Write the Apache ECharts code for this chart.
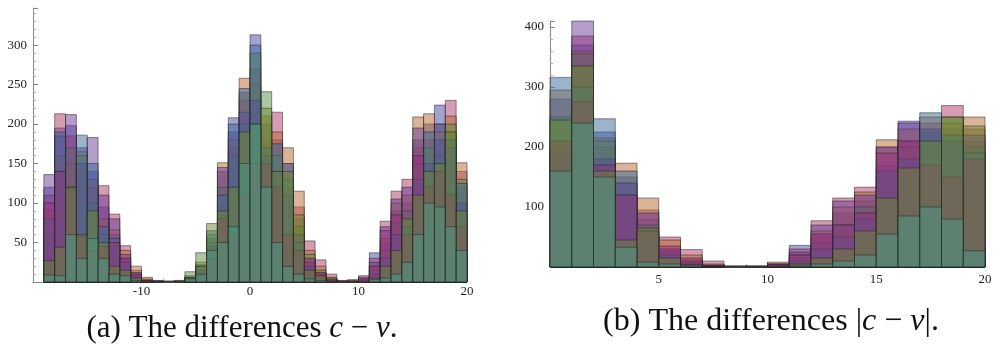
<!DOCTYPE html>
<html>
<head>
<meta charset="utf-8">
<script src="https://cdn.jsdelivr.net/npm/echarts@6/dist/echarts.min.js"></script>
<style>
  html, body { margin: 0; padding: 0; background: #fff; }
  #chart { width: 995px; height: 353px; }
</style>
</head>
<body>
<div id="chart"></div>
<script>
// (a) differences c - v : bin start of each unit-wide bin
const aBins = [-19,-18,-17,-16,-15,-14,-13,-12,-11,-10,-9,-8,-7,-6,-5,-4,-3,-2,-1,0,1,2,3,4,5,6,7,8,9,10,11,12,13,14,15,16,17,18,19]
const aBlue   = [120,195,198,170,140,95,60,30,10,3,1,0,1,6,22,55,140,208,240,313,200,180,120,80,30,12,4,1,1,3,37,50,90,100,180,200,224,190,120]
const aPink   = [110,213,185,140,120,122,86,46,15,4,2,1,0,4,18,40,100,170,230,270,180,215,150,95,52,28,10,2,2,8,30,77,115,130,170,180,200,230,140]
const aTan    = [90,160,150,165,130,80,66,40,20,6,1,1,2,8,25,50,151,180,258,250,210,190,170,115,40,20,6,1,3,4,20,55,100,110,209,213,190,210,151]
const aGreen  = [60,140,170,160,100,60,45,20,8,2,0,0,1,13,37,60,120,160,200,290,241,160,130,70,35,15,5,0,1,2,15,40,75,90,150,170,160,200,130]
const aPurple = [136,185,212,150,183,110,80,35,12,2,1,0,0,3,15,45,145,190,215,230,160,140,110,60,25,10,2,1,0,6,25,70,105,120,195,150,180,170,100]
const aSteel  = [80,190,120,186,150,70,55,25,6,1,1,1,1,6,20,65,110,200,245,300,170,175,150,50,20,6,2,0,1,1,10,30,60,70,130,190,200,180,125]
const aMagenta = [100,140,118,58,40,45,50,30,10,2,1,0,0,2,8,30,80,60,110,150,150,120,60,40,30,12,3,0,1,4,20,65,85,60,160,120,140,110,70]
const aOlive  = [27,44,120,60,90,50,20,15,5,1,0,0,1,5,20,74,90,120,190,200,220,140,140,85,15,8,1,1,0,1,5,20,40,80,110,140,150,190,90]
const aTeal   = [9,8,60,30,55,30,10,8,2,0,0,0,0,4,10,40,50,70,150,200,120,50,20,10,4,2,0,0,0,0,3,5,10,25,60,100,95,70,40]

// (b) differences |c - v|
const bBins = [0,1,2,3,4,5,6,7,8,9,10,11,12,13,14,15,16,17,18,19]
const bBlue   = [280,370,225,150,80,30,12,3,1,1,4,36,50,90,110,170,243,220,230,210]
const bPink   = [200,385,200,140,95,50,29,10,1,1,6,30,77,115,133,200,210,240,269,230]
const bTan    = [295,360,215,173,115,45,20,5,2,2,8,20,60,100,125,212,230,250,240,250]
const bGreen  = [250,355,210,120,70,25,8,2,0,1,3,15,40,70,100,150,200,225,250,200]
const bPurple = [190,410,180,140,90,30,10,3,1,0,5,25,70,110,120,200,240,230,210,220]
const bSteel  = [316,300,247,160,60,20,5,1,0,1,2,10,30,50,80,160,180,257,220,190]
const bMagenta = [210,275,170,120,60,35,15,2,0,0,4,20,55,70,90,190,210,170,150,180]
const bOlive  = [245,335,160,45,65,15,4,1,0,0,1,5,15,30,60,115,165,210,250,235]
const bTeal   = [160,240,150,33,8,5,2,0,0,0,0,2,5,10,20,55,85,100,80,27]

const seriesColors = ['#4848a8', '#b0386a', '#b86a30', '#5a9040', '#6a3a98', '#3a6a98', '#963080', '#6a8a30', '#4a9a88']
const aSets = [aBlue, aPink, aTan, aGreen, aPurple, aSteel, aMagenta, aOlive, aTeal]
const bSets = [bBlue, bPink, bTan, bGreen, bPurple, bSteel, bMagenta, bOlive, bTeal]

const serif = "'Liberation Serif', 'DejaVu Serif', serif"
const labelFont = { fontFamily: serif, fontSize: 13, color: '#222' }

function renderBin(params, api) {
  const x0 = api.value(0)
  const h = api.value(1)
  if (!h) return
  const p0 = api.coord([x0, 0])
  const p1 = api.coord([x0 + 1, h])
  return {
    type: 'rect',
    shape: { x: p0[0], y: p1[1], width: p1[0] - p0[0], height: p0[1] - p1[1] },
    style: api.style()
  }
}

function makeSeries(bins, sets, idx) {
  return sets.map((vals, i) => ({
    type: 'custom',
    xAxisIndex: idx,
    yAxisIndex: idx,
    renderItem: renderBin,
    encode: { x: 0, y: 1 },
    itemStyle: {
      color: seriesColors[i],
      opacity: 0.5,
      borderColor: '#222',
      borderWidth: 1
    },
    data: bins.map((b, k) => [b, vals[k]])
  }))
}

const axisCommon = {
  axisLine: { onZero: false, lineStyle: { color: '#888', width: 1 } },
  axisTick: { inside: true, length: 5, lineStyle: { color: '#888' } },
  minorTick: { show: true, splitNumber: 5, length: 3, lineStyle: { color: '#aaa' } },
  splitLine: { show: false }
}

function captionStyle(size) {
  return {
    fontFamily: serif, fontSize: size, fontWeight: 'normal', color: '#111',
    rich: { i: { fontFamily: serif, fontStyle: 'italic', fontSize: size, color: '#111' } }
  }
}

const myChart = echarts.init(document.getElementById('chart'))
let option = {
  animation: false,
  title: [
    { text: '(a) The differences {i|c} − {i|v}.', left: 237, top: 308, textAlign: 'center', textStyle: captionStyle(31) },
    { text: '(b) The differences |{i|c} − {i|v}|.', left: 766, top: 301, textAlign: 'center', textStyle: captionStyle(32) }
  ],
  grid: [
    { left: 33, width: 434, top: 8, height: 274 },
    { left: 550, width: 435, top: 21, height: 246 }
  ],
  xAxis: [
    Object.assign({}, axisCommon, {
      type: 'value', gridIndex: 0, min: -20, max: 20, interval: 10,
      axisLabel: Object.assign({ showMinLabel: false, margin: 3 }, labelFont)
    }),
    Object.assign({}, axisCommon, {
      type: 'value', gridIndex: 1, min: 0, max: 20, interval: 5,
      axisLabel: Object.assign({ showMinLabel: false, margin: 6 }, labelFont)
    })
  ],
  yAxis: [
    Object.assign({}, axisCommon, {
      type: 'value', gridIndex: 0, min: 0, max: 347, interval: 50,
      axisLabel: Object.assign({ showMinLabel: false, showMaxLabel: false, margin: 6 }, labelFont)
    }),
    Object.assign({}, axisCommon, {
      type: 'value', gridIndex: 1, min: 0, max: 410, interval: 100,
      axisLabel: Object.assign({ showMinLabel: false, showMaxLabel: false, margin: 6 }, labelFont)
    })
  ],
  series: makeSeries(aBins, aSets, 0).concat(makeSeries(bBins, bSets, 1))
}
myChart.setOption(option)
</script>
</body>
</html>
